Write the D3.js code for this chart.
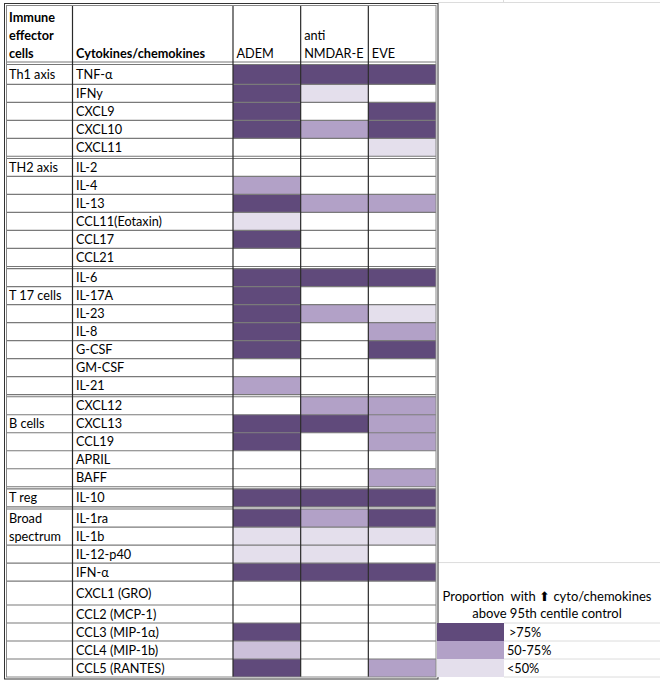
<!DOCTYPE html>
<html>
<head>
<meta charset="utf-8">
<script src="https://cdn.jsdelivr.net/npm/d3@7"></script>
<style>
  html, body { margin: 0; padding: 0; background: #fff; }
  svg { display: block; }
  text { font-family: Lato, "Open Sans", sans-serif; font-size: 12.7px; fill: #000; white-space: pre; }
</style>
</head>
<body>
<svg id="chart" width="660" height="682"></svg>
<script>
// ---------- DATA ----------
const columns = ["ADEM", "anti NMDAR-E", "EVE"];
const columnHeaderLines = [["ADEM"], ["anti", "NMDAR-E"], ["EVE"]];
const cytokines = [
  "TNF-α", "IFNy", "CXCL9", "CXCL10", "CXCL11",
  "IL-2", "IL-4", "IL-13", "CCL11(Eotaxin)", "CCL17", "CCL21",
  "IL-6", "IL-17A", "IL-23", "IL-8", "G-CSF", "GM-CSF", "IL-21",
  "CXCL12", "CXCL13", "CCL19", "APRIL", "BAFF",
  "IL-10",
  "IL-1ra", "IL-1b", "IL-12-p40", "IFN-α", "CXCL1 (GRO)", "CCL2 (MCP-1)", "CCL3 (MIP-1α)", "CCL4 (MIP-1b)", "CCL5 (RANTES)"
];
const groupLabels = [["Th1 axis"], ["TH2 axis"], ["T 17 cells"], ["B cells"], ["T reg"], ["Broad", "spectrum"]];
const groupSizes = [5, 6, 7, 5, 1, 9];
const groupLabelRowOffset = [0, 0, 1, 1, 0, 0];
// level codes: 4 = >75%, 3 = 50-75%, 2 = 50-75% (lighter shade), 1 = <50%, 0 = none
const ademLevels  = [4,4,4,4,0, 0,3,4,1,4,0, 4,4,4,4,4,0,3, 0,4,4,0,0, 4, 4,1,1,4,0,0,4,2,4];
const nmdarLevels = [4,1,0,3,0, 0,0,3,0,0,0, 4,0,3,0,0,0,0, 3,4,0,0,0, 4, 3,1,1,4,0,0,0,0,0];
const eveLevels   = [4,0,4,4,1, 0,0,3,0,0,0, 4,0,1,3,4,0,0, 3,3,3,0,3, 4, 4,1,0,4,0,0,0,0,3];
const legendTitle = ["Proportion  with \u2B06 cyto/chemokines", "above 95th centile control"];
const legendLevels = [4, 3, 1];
const legendLabels = [">75%", "50-75%", "<50%"];

// ---------- LAYOUT ----------
const svg = d3.select("#chart");
const levelColor = d3.scaleOrdinal()
  .domain([0, 1, 2, 3, 4])
  .range(["#ffffff", "#e4dfec", "#ccc0da", "#b2a1c7", "#604a7b"]);

const X0 = 6, XC1 = 72.5, XC2 = 233, XR = 436;
const xCol = d3.scaleBand().domain(columns).range([XC2, XR]).paddingInner(0).paddingOuter(0);

// row units
const rowExtra = {"TNF-α": 0.1, "CXCL1 (GRO)": 0.33};
const gapU = 0.12;
const rows = [];
let cursor = 0, idx = 0;
const groupBounds = [];
groupSizes.forEach((n, g) => {
  if (g > 0) cursor += gapU;
  const gStart = cursor;
  for (let i = 0; i < n; i++) {
    const name = cytokines[idx];
    const h = 1 + (rowExtra[name] || 0);
    rows.push({name, group: g, inGroup: i, start: cursor, end: cursor + h,
      levels: [ademLevels[idx], nmdarLevels[idx], eveLevels[idx]]});
    cursor += h; idx++;
  }
  groupBounds.push([gStart, cursor]);
});
const y = d3.scaleLinear().domain([0, cursor]).range([64.5, 677]);

// spreadsheet gridlines (background)
const grid = svg.append("g").attr("stroke", "#dcdcdc").attr("stroke-width", 1);
grid.append("line").attr("x1", 438).attr("x2", 660).attr("y1", 2.5).attr("y2", 2.5);
grid.append("line").attr("x1", 503.5).attr("x2", 503.5).attr("y1", 0).attr("y2", 3);
grid.append("line").attr("x1", 438).attr("x2", 660).attr("y1", y(rows[27].end) - 18.5).attr("y2", y(rows[27].end) - 18.5);
[30, 31, 32].forEach(i => {
  grid.append("line").attr("x1", 504).attr("x2", 660).attr("y1", y(rows[i].start)).attr("y2", y(rows[i].start));
});
grid.append("line").attr("x1", 504).attr("x2", 660).attr("y1", y(rows[32].end)).attr("y2", y(rows[32].end));

// cells
const cells = svg.append("g");
rows.forEach(r => {
  r.levels.forEach((lv, c) => {
    if (lv === 0) return;
    cells.append("rect")
      .attr("x", xCol(columns[c])).attr("y", y(r.start))
      .attr("width", xCol.bandwidth()).attr("height", y(r.end) - y(r.start))
      .attr("fill", levelColor(lv));
  });
});

// horizontal row lines
const hl = svg.append("g").attr("stroke", "#7a7a7a").attr("stroke-width", 1.2);
rows.forEach((r, i) => {
  const next = rows[i + 1];
  if (!next || next.group !== r.group) return;
  const gl = groupLabels[r.group];
  const merged = gl.length > 1 && r.inGroup === groupLabelRowOffset[r.group];
  hl.append("line").attr("x1", merged ? XC1 : X0).attr("x2", XR)
    .attr("y1", y(r.end)).attr("y2", y(r.end));
});
// double lines between groups & under header
const dl = svg.append("g").attr("stroke", "#777").attr("stroke-width", 1.1);
groupBounds.forEach(([s, e], g) => {
  if (g === 0) return;
  const prevEnd = groupBounds[g - 1][1];
  dl.append("line").attr("x1", X0).attr("x2", XR).attr("y1", y(prevEnd)).attr("y2", y(prevEnd));
  dl.append("line").attr("x1", X0).attr("x2", XR).attr("y1", y(s)).attr("y2", y(s));
});
dl.append("line").attr("x1", X0).attr("x2", XR).attr("y1", 62).attr("y2", 62);
dl.append("line").attr("x1", X0).attr("x2", XR).attr("y1", y(0)).attr("y2", y(0));

// vertical lines
const vl = svg.append("g").attr("stroke", "#2a2a2a").attr("stroke-width", 1.2);
[XC1, XC2, xCol(columns[1]), xCol(columns[2])].forEach(xv => {
  vl.append("line").attr("x1", xv).attr("x2", xv).attr("y1", 5).attr("y2", 677);
});

// outer double border
svg.append("rect").attr("x", 4.5).attr("y", 3.5).attr("width", 438 - 4.5).attr("height", 679 - 3.5)
  .attr("fill", "none").attr("stroke", "#333").attr("stroke-width", 1);
svg.append("rect").attr("x", X0 + 0.5).attr("y", 5.5).attr("width", XR - X0 - 0.5).attr("height", 677 - 5.5)
  .attr("fill", "none").attr("stroke", "#888").attr("stroke-width", 1);

// header text
const hdr = svg.append("g");
["Immune", "effector", "cells"].forEach((t, i) => {
  hdr.append("text").attr("x", 9).attr("y", 21.5 + i * 18).attr("font-weight", "bold").text(t);
});
hdr.append("text").attr("x", 76).attr("y", 57.5).attr("font-weight", "bold").text("Cytokines/chemokines");
columns.forEach((c, ci) => {
  const lines = columnHeaderLines[ci];
  lines.forEach((t, li) => {
    hdr.append("text").attr("x", xCol(c) + 3.5)
      .attr("y", 57.5 - (lines.length - 1 - li) * 18).text(t);
  });
});

// row labels
const lbl = svg.append("g");
rows.forEach(r => {
  const cy = (y(r.start) + y(r.end)) / 2;
  lbl.append("text").attr("x", 76).attr("y", cy + 4.5).text(r.name);
  const off = groupLabelRowOffset[r.group];
  const gl = groupLabels[r.group];
  const li = r.inGroup - off;
  if (li >= 0 && li < gl.length) {
    lbl.append("text").attr("x", 9).attr("y", cy + 4.5).text(gl[li]);
  }
});

// legend
const lg = svg.append("g");
const legRows = [30, 31, 32];
legendTitle.forEach((t, i) => {
  lg.append("text").attr("x", 547).attr("y", 600.5 + i * 17.5).attr("text-anchor", "middle")
    .style("font-size", "13px").text(t);
});
legendLevels.forEach((lv, i) => {
  const r = rows[legRows[i]];
  lg.append("rect").attr("x", 437).attr("y", y(r.start)).attr("width", 67)
    .attr("height", y(r.end) - y(r.start)).attr("fill", levelColor(lv));
  lg.append("text").attr("x", i === 0 ? 509 : 507).attr("y", (y(r.start) + y(r.end)) / 2 + 4.5).text(legendLabels[i]);
});
</script>
</body>
</html>
